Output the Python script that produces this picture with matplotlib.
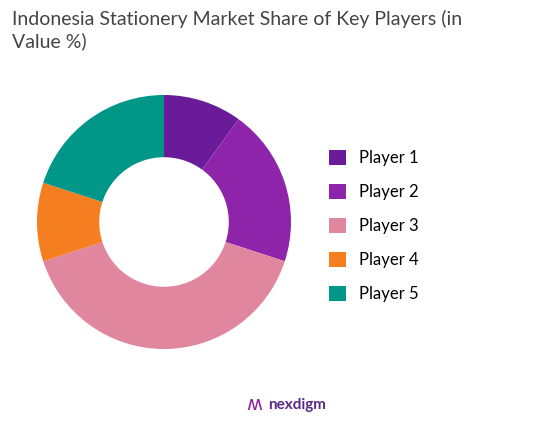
import matplotlib.pyplot as plt
from matplotlib.patches import Patch

# --- données ---
players = ['Player 1', 'Player 2', 'Player 3', 'Player 4', 'Player 5']
shares = [10, 20, 40, 10, 20]
colors = ['#6a1b9a', '#8e24aa', '#e0879f', '#f57f20', '#009688']

fig = plt.figure(figsize=(5.46, 4.25), dpi=100)

# donut
ax = fig.add_axes([(164 - 127) / 546, 1 - (222 + 127) / 425, 254 / 546, 254 / 425])
ax.pie(shares, colors=colors, startangle=90, counterclock=False,
       wedgeprops=dict(width=0.49, edgecolor='white', linewidth=0))
ax.set_xlim(-1, 1)
ax.set_ylim(-1, 1)
ax.set_aspect('equal')

# titre
fig.text(12 / 546, 1 - 10 / 425, "Indonesia Stationery Market Share of Key Players (in\nValue %)",
         fontsize=14, color='#444444', va='top', ha='left', family='Lato', linespacing=1.3)

# légende
handles = [Patch(facecolor=c, label=p) for c, p in zip(colors, players)]
fig.legend(handles=handles, loc='center left', bbox_to_anchor=(314 / 546, 1 - 226 / 425),
           frameon=False, labelspacing=1.08, handlelength=1.0, handleheight=1.0,
           prop={'family': 'Lato', 'size': 12})

# logo
fig.text(268 / 546, 1 - 405 / 425, "nexdigm", fontsize=11, fontweight='bold', color='#5b2a86',
         ha='left', va='center', family='Lato')
fig.text(254 / 546, 1 - 405 / 425, "ʍ", fontsize=14, color='#8e24aa', ha='center', va='center')

fig.savefig('out.png', dpi=100)
